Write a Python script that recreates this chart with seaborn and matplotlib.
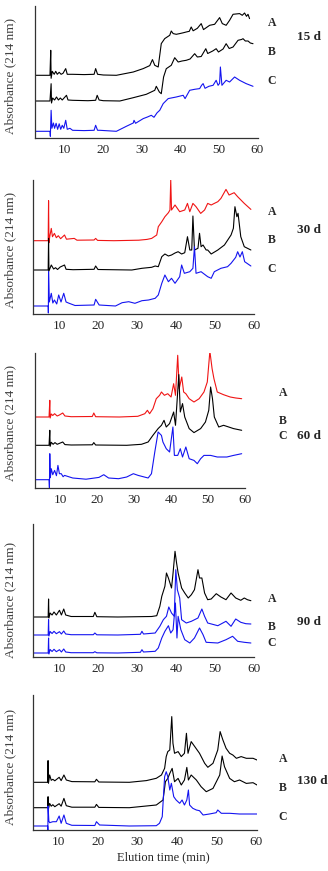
import numpy as np
import pandas as pd
import matplotlib
matplotlib.use('Agg')
import matplotlib.pyplot as plt
import seaborn as sns

# ---- data: (elution time in min, absorbance above own baseline, arbitrary units) ----
d15_A = [(2.2, 0), (6.1, 0), (6.3, 25), (6.4, -3), (6.7, 4), (7.2, 1), (7.6, 4), (8.0, 1), (8.5, 3), (9.0, 1),
         (9.5, 2), (10.2, 6.7), (10.6, 1), (12, 1), (15, 0.7), (17.6, 1), (18.0, 6.7), (18.5, 1), (20, 0.3),
         (23.4, 0), (27.8, 3.3), (30.4, 6.7), (32.1, 9.7), (32.8, 15.7), (33.4, 10), (34.3, 8.3), (35.1, 31.7),
         (36.0, 36.7), (37.3, 40), (37.7, 44.3), (38.2, 41.7), (39.0, 41), (39.9, 41.7), (40.8, 42.5),
         (41.6, 43.3), (42.4, 44), (42.9, 48.3), (43.4, 44.5), (44.5, 47), (45.5, 51.7), (46.1, 45.7),
         (47.7, 50), (49.0, 51), (50.3, 57.7), (51.0, 51.7), (52.0, 50), (52.9, 55), (53.8, 61), (55.5, 61.7),
         (56.2, 60), (56.8, 62.3), (57.3, 59), (57.7, 61), (58.1, 56.7)]
d15_B = [(2.2, 0), (6.1, 0), (6.4, 17.3), (6.5, -2), (6.8, 3), (7.3, 1), (7.8, 4), (8.3, 1), (8.8, 3), (9.3, 1),
         (10.4, 5.7), (10.8, 1), (12, 0.7), (16, 0.3), (18.0, 0.7), (18.4, 5.7), (18.9, 1), (20, 0.3), (24.3, 0),
         (27.8, 3.3), (31.2, 6.7), (33.4, 10.7), (33.8, 14.7), (34.6, 9), (35.1, 7.3), (35.7, 24), (36.4, 32.3),
         (37.7, 35.7), (38.6, 43.3), (39.5, 39), (40.5, 40), (41.6, 40.7), (42.6, 42), (43.8, 47.3), (44.5, 44),
         (45.5, 44.5), (46.7, 52.3), (47.2, 47.5), (48.5, 50), (49.4, 52.3), (50.0, 49), (51.2, 52), (52.0, 57.3),
         (52.8, 52.5), (53.8, 54), (55.1, 60.7), (56.0, 61.5), (56.4, 62.3), (57.0, 60), (57.7, 60), (58.3, 58),
         (59.0, 57.3)]
d15_C = [(2.2, 0), (6.1, 0), (6.2, -5), (6.4, 21), (6.6, 3), (7.0, 8.3), (7.3, 3), (7.7, 8), (8.1, 2), (8.5, 7.5),
         (8.9, 2), (9.3, 6), (9.7, 3), (10.2, 11), (10.6, 2), (11.3, 3), (12, 1), (15, 0.7), (17.6, 1), (18.0, 6),
         (18.5, 1), (19.1, 1), (23.4, 0), (26.0, 5), (27.8, 8.3), (28.0, 11), (28.4, 8), (30.4, 12.7), (31.5, 14.3),
         (32.5, 16), (33.2, 14), (34.0, 18.5), (34.7, 21), (35.6, 27.7), (36.9, 32.7), (39.0, 34.3), (40.8, 36),
         (41.3, 32.7), (42.5, 41), (43.8, 42), (45.1, 42.7), (45.6, 46), (46.0, 47.7), (46.5, 43), (47.5, 45),
         (48.6, 46), (49.4, 51), (49.9, 46), (50.3, 48), (50.5, 64.3), (50.9, 46), (52.0, 51), (52.9, 49.3),
         (54.2, 54.3), (55.5, 51), (57.2, 47.7), (59.0, 45)]

d30_A = [(3.2, 0), (7.1, 0), (7.2, 40), (7.3, -2), (7.5, 4), (7.9, 12.3), (8.2, 4), (8.7, 7.3), (9.2, 3), (9.7, 5),
         (10.3, 2), (11.3, 5.7), (11.8, 1.5), (13.8, 2.3), (14.5, 0.5), (18.9, 0.7), (19.3, 2.3), (19.8, 0.3),
         (24, 0), (30.4, 0.5), (32.5, 1.3), (33.7, 2.3), (35.0, 5.7), (35.4, 14), (36.3, 19), (37.1, 24),
         (38.0, 28), (38.4, 30.7), (38.6, 60.7), (38.8, 30.7), (39.7, 35.7), (40.9, 29), (42.2, 30.7),
         (42.9, 37.3), (43.5, 29), (44.3, 37.3), (45.1, 34), (46.3, 27.3), (47.3, 30.7), (48.1, 37.3),
         (49.0, 35.7), (49.8, 37.3), (50.7, 39), (51.5, 42.3), (52.8, 51.3), (53.6, 45.7), (54.9, 48),
         (55.8, 44), (57.5, 37.3), (59.2, 31.3)]
d30_B = [(3.2, 0), (7.1, 0), (7.2, 31.7), (7.3, -1), (7.9, 5), (8.5, 1), (9.0, 2.3), (9.5, 0.5), (10.2, 3),
         (11.3, 5), (11.7, 0.7), (13.5, 0.3), (18.9, 0.7), (19.3, 4), (19.9, 0.5), (28.6, 0), (31.2, 1.7),
         (33.7, 2.7), (34.6, 4), (35.4, 3.3), (36.3, 13.3), (37.1, 16), (38.0, 14), (38.8, 15), (39.7, 17),
         (40.5, 18.3), (41.4, 16), (42.2, 17.3), (42.9, 33.3), (43.5, 20), (44.0, 20), (44.3, 54), (44.7, 20),
         (45.6, 21.7), (46.0, 36.7), (46.4, 23.3), (46.9, 25), (47.7, 20), (48.1, 20), (49.0, 16), (50.7, 20),
         (52.4, 25), (54.1, 35), (54.7, 41.7), (55.1, 63.3), (55.6, 53.3), (55.9, 56.7), (56.6, 33.3),
         (57.5, 23.3), (59.2, 20)]
d30_C = [(3.2, 0), (7.1, 0), (7.15, -7), (7.2, 34.3), (7.4, 4), (7.9, 12.7), (8.3, 3), (8.7, 6), (9.3, 2),
         (9.8, 11), (10.4, 4), (11.1, 12.7), (11.7, 4), (12.5, 2.7), (14, 0.5), (18.9, 1), (19.3, 6.7), (20.2, 1),
         (24.4, 0), (26.1, 3.3), (27.8, 4.3), (29.4, 2.7), (31.2, 5.3), (32.9, 6), (34.6, 7.7), (35.4, 11),
         (36.3, 22.7), (37.1, 31), (38.0, 24.3), (38.8, 27.7), (39.7, 22.7), (40.9, 29.3), (41.4, 41),
         (42.1, 32.7), (43.5, 34.3), (44.3, 37.7), (44.7, 59.3), (45.1, 32.7), (46.4, 34.3), (48.1, 29.3),
         (49.0, 27.7), (49.8, 34.3), (51.5, 37.7), (53.2, 39.3), (54.1, 42.7), (55.3, 48.7), (55.8, 54.3),
         (56.4, 49), (57.0, 54.3), (57.6, 44.3), (59.2, 40)]

d60_A = [(3.2, 0), (7.0, 0), (7.2, 16.7), (7.3, -1), (7.6, 3), (8.0, 1.5), (8.5, 3.3), (9.2, 1), (9.8, 2),
         (10.7, 4), (11.3, 1), (13, 0.3), (18.7, 0.5), (19.1, 4), (19.6, 0.3), (26, 0), (31, 0.7), (32.9, 3.3),
         (33.6, 6.7), (34.2, 3.3), (35.1, 8.3), (36.0, 18.3), (36.9, 21.7), (37.4, 25), (38.2, 21.7),
         (39.1, 23.3), (40.0, 20), (40.7, 33.3), (41.2, 21.7), (41.8, 61.7), (42.2, 28.3), (42.9, 40),
         (43.4, 25), (44.0, 23.3), (44.9, 18.3), (46.2, 15), (47.6, 18.3), (48.9, 25), (49.8, 35), (50.5, 65.7),
         (51.1, 48.3), (51.6, 38.3), (52.5, 25), (54.2, 22.3), (56.0, 20), (57.5, 19), (59.1, 18.3)]
d60_B = [(3.2, 0), (7.0, 0), (7.2, 15), (7.3, -1), (7.6, 3), (8.1, 1), (8.6, 2.7), (9.2, 1), (10.7, 3.3),
         (11.3, 0.7), (13, 0.3), (18.7, 0.5), (19.1, 2.7), (19.6, 0.3), (28, 0), (32.0, 1), (33.8, 3.3),
         (35.1, 10), (36.5, 16.7), (37.4, 20), (38.1, 25), (38.7, 18.3), (39.6, 21.7), (40.7, 33.3), (41.2, 20),
         (42.1, 70.7), (42.5, 33.3), (43.1, 41.7), (43.7, 28.3), (44.9, 16.7), (46.2, 12.7), (48.0, 16.7),
         (49.3, 23.3), (50.2, 35), (50.7, 58.3), (51.2, 46.7), (51.7, 28.3), (52.9, 18.3), (54.2, 20),
         (55.6, 18.3), (56.9, 16.7), (59.1, 15)]
d60_C = [(3.2, 0), (7.0, 0), (7.1, -8), (7.2, 26), (7.35, 2), (7.6, 11), (8.0, 5), (8.5, 9.3), (9.0, 4),
         (9.4, 14.3), (9.8, 6), (10.3, 6), (10.8, 3), (11.2, 4.3), (13.4, 1.7), (17, 0.5), (20.5, 2.3), (21.8, 5),
         (23.1, 1.7), (25.8, 1), (28.0, 2.7), (29.8, 6), (31.1, 4.3), (33.8, 1.7), (34.7, 6), (35.6, 27.7),
         (36.5, 47.7), (37.4, 44.3), (37.8, 37.7), (38.7, 31), (39.6, 27.7), (40.5, 52.7), (40.9, 24.3),
         (41.8, 24.3), (42.5, 31), (43.1, 22.7), (44.0, 32.7), (44.9, 21), (46.2, 19.3), (47.1, 16), (48.0, 21),
         (48.9, 24.3), (50.7, 24.3), (52.5, 22.7), (55.1, 22.7), (56.9, 24.3), (59.1, 26)]

d90_A = [(3.2, 0), (7.1, 0), (7.2, 18), (7.3, -1), (7.6, 4), (8.1, 2), (8.6, 5), (9.2, 2), (10.0, 6.7), (10.5, 2),
         (11.1, 8), (11.6, 2), (13, 0.5), (18.7, 0.5), (19.1, 4.7), (19.6, 0.3), (25, 0), (33.7, 0.5), (35.0, 1.3),
         (35.8, 10.7), (36.3, 20.7), (37.1, 30.7), (37.5, 44), (38.0, 39), (38.4, 34), (38.8, 29), (39.2, 44),
         (39.7, 65.7), (40.1, 54), (40.5, 44), (41.4, 29), (42.2, 24), (43.1, 19), (43.9, 22.3), (44.7, 27.3),
         (45.6, 47.3), (46.0, 39), (46.6, 39), (47.3, 24), (48.1, 17.3), (49.0, 18), (50.3, 23.3), (51.5, 20),
         (52.8, 17.3), (54.1, 24), (55.3, 19), (56.6, 16.7), (57.5, 19), (58.3, 17.3), (59.2, 16.3)]
d90_B = [(3.2, 0), (7.1, 0), (7.2, 15.3), (7.3, -1), (7.6, 3.5), (8.1, 1.5), (8.6, 3.7), (9.2, 1.3), (10.0, 3.3),
         (10.5, 1), (11.1, 4), (11.6, 1), (13, 0.3), (18.7, 0.3), (19.1, 2), (19.6, 0.2), (25, 0), (30.8, 0.7),
         (31.2, 3.7), (31.6, 1), (34.6, 2), (35.8, 8.7), (36.7, 15.3), (37.5, 18.7), (38.1, 28), (38.8, 22),
         (39.5, 18.7), (39.9, 65.3), (40.3, 45.3), (40.9, 37), (41.4, 15.3), (42.6, 12), (43.9, 13.7),
         (45.6, 17), (46.6, 26), (47.3, 18.7), (48.1, 12), (50.7, 9.3), (52.8, 13.7), (54.1, 8.7), (55.3, 16),
         (56.6, 12.7), (57.9, 11.3), (59.2, 11)]
d90_C = [(3.2, 0), (7.1, 0), (7.2, 15), (7.3, -1), (7.6, 3.5), (8.1, 1.5), (8.6, 3.7), (9.2, 1.3), (10.0, 3.3),
         (10.5, 1), (11.1, 4), (11.6, 1), (13, 0.3), (18.7, 0.3), (19.1, 1.3), (19.6, 0.2), (25, 0), (30.8, 0.7),
         (31.2, 3.3), (31.6, 1), (34.6, 1.7), (35.4, 5), (36.3, 15), (37.1, 21.7), (38.0, 27.3), (38.6, 20),
         (39.2, 23.3), (39.8, 50), (40.2, 15), (40.5, 36.7), (41.2, 23.3), (42.2, 13.3), (43.5, 10), (44.7, 15),
         (46.0, 25), (46.9, 18.3), (47.7, 10.7), (50.7, 10), (52.8, 13.3), (54.5, 16.7), (55.8, 11.7),
         (57.5, 10.7), (59.2, 10)]

d130_A = [(3.7, 0), (7.4, 0), (7.5, 21.7), (7.6, -1), (7.9, 7.3), (8.3, 2), (8.7, 3), (9.2, 1.5), (10.3, 5),
          (10.8, 1.7), (11.5, 7.3), (12.1, 2.3), (13.5, 0.7), (19.3, 0.5), (19.7, 3), (20.3, 0.3), (28, 0),
          (32.3, 1.7), (34.8, 4), (36.1, 7.3), (36.9, 14), (37.3, 25.7), (37.7, 30.7), (38.2, 32.3), (38.7, 65.7),
          (39.0, 39), (39.4, 29), (40.3, 30.7), (41.1, 25.7), (41.9, 29), (42.4, 49), (42.8, 29), (43.6, 40.7),
          (44.5, 35.7), (45.7, 29), (47.0, 19), (47.8, 15), (49.1, 19), (50.3, 32.3), (50.9, 50.7), (51.6, 42.3),
          (52.4, 34), (53.3, 29), (54.1, 27.3), (55.0, 24), (56.2, 25.7), (57.5, 24), (59.2, 24), (60.2, 22.3)]
d130_B = [(3.7, 0), (7.4, 0), (7.5, 11), (7.6, -1), (7.9, 4.3), (8.3, 1.5), (8.7, 3), (9.2, 1), (10.3, 4),
          (10.8, 1.5), (11.5, 9.3), (12.1, 2), (13.5, 0.5), (19.3, 0.5), (19.7, 3.3), (20.3, 0.3), (28, 0),
          (34.8, 2.7), (36.5, 7.7), (37.1, 26), (37.7, 29.3), (38.2, 34.3), (38.8, 39.3), (39.4, 26), (40.3, 29.3),
          (41.1, 22.7), (41.9, 27.7), (42.5, 40.3), (42.9, 27.7), (43.6, 32.7), (44.9, 27.7), (46.1, 21),
          (47.4, 16), (49.1, 19.3), (50.8, 32.7), (51.4, 51.7), (52.0, 41), (53.3, 29.3), (54.5, 26), (55.8, 27.7),
          (57.5, 24.3), (59.2, 25), (60.2, 22.7)]
d130_C = [(3.7, 0), (7.4, 0), (7.45, -4), (7.5, 20), (7.7, 5), (7.9, 3.3), (8.7, 4.3), (9.6, 4.3), (10.3, 10),
          (10.8, 2.7), (11.5, 11), (12.1, 2.7), (13.5, 0.7), (19.3, 0.5), (19.7, 4.3), (20.5, 1), (28, 0),
          (34.8, 0.3), (35.6, 2.7), (36.3, 9.3), (36.9, 49.3), (37.3, 54.3), (37.7, 49.3), (38.2, 36), (38.6, 42.7),
          (39.2, 29.3), (39.8, 26), (40.7, 22.7), (41.3, 26), (41.9, 21), (42.5, 26), (42.9, 36), (43.2, 21),
          (44.0, 17.7), (44.9, 16), (45.7, 15.3), (46.6, 11), (48.2, 12), (49.9, 13.3), (50.3, 16), (51.2, 12.7),
          (53.3, 12.7), (55.8, 12), (58.3, 12), (60.2, 12)]

days = ['15 d', '30 d', '60 d', '90 d', '130 d']
series = [[d15_A, d15_B, d15_C], [d30_A, d30_B, d30_C], [d60_A, d60_B, d60_C],
          [d90_A, d90_B, d90_C], [d130_A, d130_B, d130_C]]
xticks = [10, 20, 30, 40, 50, 60]

# ---- layout (pixels in a 328 x 871 canvas) ----
W, H = 328, 871
boxes = [(35, 6, 258, 138), (33, 180, 254, 314), (35, 353, 245, 488), (33, 524, 254, 657), (33, 695, 257, 830)]
xlims = [(2.2, 60.3), (3.2, 59.4), (3.2, 59.1), (3.2, 59.3), (3.7, 60.2)]
offsets = [(62.7, 37, 6.7), (73.3, 44, 8), (71, 42.7, 8.3), (40, 22, 4), (47.7, 22.3, 4)]
colors = [('black', 'black', '#1414f0'), ('#f01414', 'black', '#1414f0'), ('#f01414', 'black', '#1414f0'),
          ('black', '#1414f0', '#1414f0'), ('black', 'black', '#1414f0')]
abc_pos = [[(272, 23), (272, 52), (272, 81)], [(272, 212), (272, 240), (272, 269)],
           [(283, 393), (283, 421), (283, 436)], [(272, 599), (272, 627), (272, 643)],
           [(283, 759), (283, 788), (283, 817)]]
day_pos = [(309, 37), (309, 230), (309, 436), (309, 622), (312, 781)]
ylab_y = [76, 250, 423, 600, 767]

sns.set_style('white')
plt.rcParams['font.family'] = ['Liberation Serif', 'DejaVu Serif']

fig = plt.figure(figsize=(W / 100, H / 100), dpi=100)

for i in range(5):
    l, t, r, b = boxes[i]
    ax = fig.add_axes([l / W, 1 - b / H, (r - l) / W, (b - t) / H])
    for j, pts in enumerate(series[i]):
        df = pd.DataFrame(pts, columns=['time', 'absorbance'])
        df['absorbance'] = df['absorbance'] + offsets[i][j]
        sns.lineplot(data=df, x='time', y='absorbance', ax=ax, color=colors[i][j],
                     linewidth=0.8, estimator=None, sort=False)
    ax.set_xlim(*xlims[i])
    ax.set_ylim(0, b - t)
    ax.set_xticks(xticks)
    ax.set_yticks([])
    ax.set_xlabel('')
    ax.set_ylabel('')
    ax.tick_params(axis='x', length=0, pad=4.5, labelsize=9.5)
    for s in ['top', 'right']:
        ax.spines[s].set_visible(False)
    for s in ['left', 'bottom']:
        ax.spines[s].set_color('#333333')
        ax.spines[s].set_linewidth(0.9)

    for lab, (px, py) in zip('ABC', abc_pos[i]):
        fig.text(px / W, 1 - py / H, lab, ha='center', va='center', fontsize=8.5, fontweight='bold')
    fig.text(day_pos[i][0] / W, 1 - day_pos[i][1] / H, days[i], ha='center', va='center',
             fontsize=9.5, fontweight='bold')
    fig.text(10 / W, 1 - ylab_y[i] / H, 'Absorbance (214 nm)', rotation=90, ha='center', va='center',
             fontsize=9.5, color='#404040')

fig.text(163 / W, 1 - 857 / H, 'Elution time (min)', ha='center', va='center', fontsize=9)

fig.savefig('out.png', dpi=100)
